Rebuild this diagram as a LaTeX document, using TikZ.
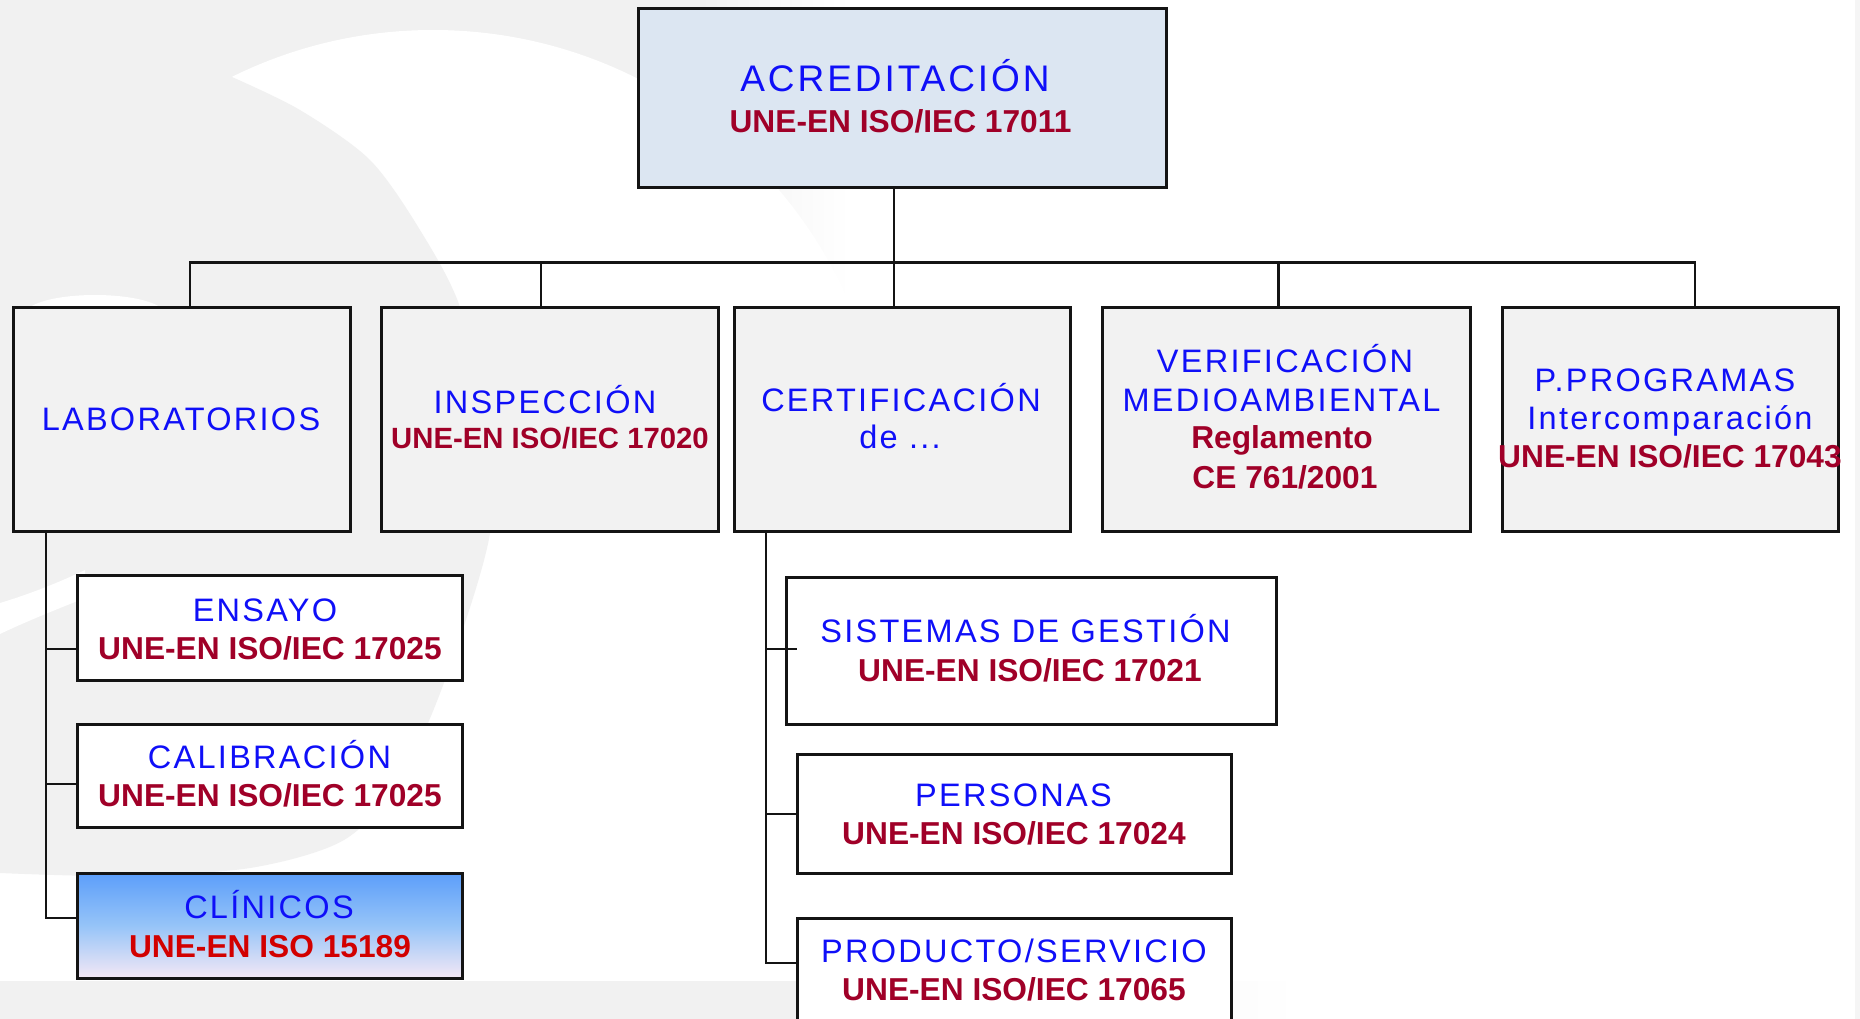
\documentclass[tikz,border=0pt]{standalone}
\usepackage{fontspec}
\setmainfont{Liberation Sans}
\newfontfamily\bluefont[LetterSpace=7]{Liberation Sans}
\newfontfamily\bigbluefont[LetterSpace=8]{Liberation Sans}
\definecolor{txtblue}{RGB}{15,15,248}
\definecolor{txtred}{RGB}{160,0,40}
\definecolor{clinred}{RGB}{210,0,0}
\definecolor{bggrey}{RGB}{241,241,241}
\definecolor{bglight}{RGB}{245,245,245}
\definecolor{topfill}{RGB}{220,230,242}
\definecolor{rowfill}{RGB}{242,242,242}
\definecolor{edge}{RGB}{20,20,20}
\definecolor{clintop}{RGB}{92,158,250}
\definecolor{clinmid}{RGB}{150,196,248}
\definecolor{clinbot}{RGB}{244,232,245}
\tikzset{
  box/.style={draw=edge, line width=3pt, inner sep=0pt, outer sep=0pt, rectangle},
  topbox/.style={box, fill=topfill},
  rowbox/.style={box, fill=rowfill},
  subbox/.style={box, fill=white},
  clinbox/.style={box, top color=clintop, bottom color=clinbot, middle color=clinmid},
  conn/.style={draw=edge, line width=2.5pt},
  bl/.style={anchor=base, inner sep=0pt, text=txtblue, font=\bluefont\fontsize{32.5}{32.5}\selectfont},
  bigbl/.style={bl, font=\bigbluefont\fontsize{37}{37}\selectfont},
  rd/.style={anchor=base, inner sep=0pt, text=txtred, font=\bfseries\fontsize{31.7}{31.7}\selectfont},
  rdsmall/.style={rd, font=\bfseries\fontsize{29.3}{29.3}\selectfont},
}
\begin{document}
\begin{tikzpicture}[x=1pt, y=-1pt]
\useasboundingbox (0,0) rectangle (1860,1019);
\clip (0,0) rectangle (1860,1019);
% ---- background watermark
\fill[white] (0,0) rectangle (1860,1019);
\fill[bggrey] (0,0) rectangle (700,560);
\shade[left color=bggrey, right color=white] (700,0) rectangle (850,560);
\fill[white] (433,484) circle (454pt);
\fill[bggrey] plot[smooth] coordinates {(232,77) (300,110) (370,160) (420,230) (460,307) (485,420) (490,533) (445,680) (400,780) (344,840) (250,868) (120,876) (0,873)}
  -- (0,60) -- (232,60) -- cycle;
\fill[white] (0,603) .. controls (30,594) and (60,582) .. (85,570) -- (85,598) .. controls (55,610) and (25,622) .. (0,634) -- cycle;
\fill[white] (30,307) .. controls (55,291) and (135,291) .. (160,307) -- cycle;
\fill[bggrey] (0,981) rectangle (900,1019);
\shade[left color=bggrey, right color=white] (900,981) rectangle (1300,1019);
\fill[bglight] (1855,0) rectangle (1860,1019);
% ---- boxes
\node[topbox, minimum width=528pt, minimum height=179pt] (acc) at (902,98.5) {};
\node[rowbox, minimum width=337pt, minimum height=224pt] (lab) at (181.5,419) {};
\node[rowbox, minimum width=337pt, minimum height=224pt] (ins) at (549.5,419) {};
\node[rowbox, minimum width=336pt, minimum height=224pt] (cer) at (902,419) {};
\node[rowbox, minimum width=368pt, minimum height=224pt] (ver) at (1286.5,419) {};
\node[rowbox, minimum width=336pt, minimum height=224pt] (pp) at (1670,419) {};
\node[subbox, minimum width=385pt, minimum height=105pt] (ens) at (269.5,627.5) {};
\node[subbox, minimum width=385pt, minimum height=103pt] (cal) at (269.5,775.5) {};
\node[clinbox, minimum width=385pt, minimum height=105pt] (cli) at (269.5,925.5) {};
\node[subbox, minimum width=490pt, minimum height=147pt] (sis) at (1031,650.5) {};
\node[subbox, minimum width=434pt, minimum height=119pt] (per) at (1014,813.5) {};
\node[subbox, minimum width=434pt, minimum height=142pt] (pro) at (1014,989) {};
% ---- connectors
\coordinate (jlab) at (190,262.5);
\coordinate (jins) at (541,262.5);
\coordinate (jcer) at (894,262.5);
\coordinate (jver) at (1278.5,262.5);
\coordinate (jpp) at (1695,262.5);
\draw[conn] (acc.south -| jcer) -- (jcer);
\draw[conn] (lab.north -| jlab) -- (jlab) -- (jpp) -- (pp.north -| jpp);
\draw[conn] (jins) -- (ins.north -| jins);
\draw[conn] (jcer) -- (cer.north -| jcer);
\draw[conn] (jver) -- (ver.north -| jver);
% laboratorios
\coordinate (le) at (46,649);
\coordinate (lc) at (46,784);
\coordinate (ll) at (46,918);
\draw[conn] (lab.south -| ll) -- (ll) -- (ll -| cli.west);
\draw[conn] (le) -- (le -| ens.west);
\draw[conn] (lc) -- (lc -| cal.west);
% certificacion
\coordinate (cs) at (766,649);
\coordinate (cp) at (766,814);
\coordinate (cr) at (766,963);
\coordinate (csend) at (797,649);
\draw[conn] (cer.south -| cr) -- (cr) -- (cr -| pro.west);
\draw[conn] (cs) -- (csend);
\draw[conn] (cp) -- (cp -| per.west);
% ---- texts
\node[bigbl] (tacc) at (895,92) {ACREDITACIÓN};
\node[rd] (racc) at (900.5,133) {UNE-EN ISO/IEC 17011};
\node[bl] (tlab) at (181,430) {LABORATORIOS};
\node[bl] (tins) at (545,413) {INSPECCIÓN};
\node[rdsmall] (rins) at (550,448) {UNE-EN ISO/IEC 17020};
\node[bl] (tcer) at (901,411) {CERTIFICACIÓN};
\node[bl] (tcer2) at (900,448) {de ...};
\node[bl] (tver) at (1285,372) {VERIFICACIÓN};
\node[bl] (tver2) at (1281.5,411) {MEDIOAMBIENTAL};
\node[rd] (rver) at (1282,448) {Reglamento};
\node[rd] (rver2) at (1285,488) {CE 761/2001};
\node[bl] (tpp) at (1665,391) {P.PROGRAMAS};
\node[bl] (tpp2) at (1670,429) {Intercomparación};
\node[rd] (rpp) at (1670,467) {UNE-EN ISO/IEC 17043};
\node[bl] (tens) at (265,621) {ENSAYO};
\node[rd] (rens) at (270,659) {UNE-EN ISO/IEC 17025};
\node[bl] (tcal) at (269.5,768) {CALIBRACIÓN};
\node[rd] (rcal) at (270,806) {UNE-EN ISO/IEC 17025};
\node[bl] (tcli) at (269,918) {CLÍNICOS};
\node[rd, text=clinred] (rcli) at (270,957) {UNE-EN ISO 15189};
\node[bl] (tsis) at (1025.5,642) {SISTEMAS DE GESTIÓN};
\node[rd] (rsis) at (1030,681) {UNE-EN ISO/IEC 17021};
\node[bl] (tper) at (1013.5,806) {PERSONAS};
\node[rd] (rper) at (1014,844) {UNE-EN ISO/IEC 17024};
\node[bl] (tpro) at (1014,962) {PRODUCTO/SERVICIO};
\node[rd] (rpro) at (1014,1000) {UNE-EN ISO/IEC 17065};
\end{tikzpicture}
\end{document}
